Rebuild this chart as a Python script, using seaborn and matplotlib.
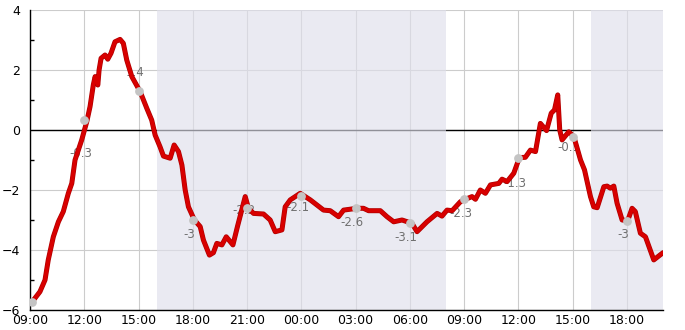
import numpy as np
import pandas as pd
import matplotlib
matplotlib.use("Agg")
import matplotlib.pyplot as plt
import matplotlib.dates as mdates
import matplotlib.patheffects as pe
from matplotlib.ticker import MultipleLocator
import seaborn as sns

start = pd.Timestamp("2024-01-01 09:00")

# line data: hours after 09:00 on day 1, value
hours = [0.13, 0.55, 0.83, 1.01, 1.29, 1.57, 1.84, 2.12, 2.31, 2.49, 2.86, 3.14, 3.32, 3.50,
         3.60, 3.75, 3.82, 3.93, 4.15, 4.30, 4.48, 4.70, 4.98, 5.16, 5.35, 5.63, 6.09, 6.46,
         6.73, 6.92, 7.19, 7.38, 7.75, 7.97, 8.21, 8.40, 8.58, 8.76, 9.09, 9.41, 9.59, 9.92,
         10.14, 10.33, 10.61, 10.85, 11.22, 11.47, 11.90, 12.08, 12.36, 12.91, 13.28, 13.56,
         13.93, 14.11, 14.39, 14.94, 15.50, 16.23, 16.60, 17.06, 17.34, 18.08, 18.44, 18.72,
         19.37, 19.74, 20.11, 20.57, 21.12, 21.40, 21.95, 22.51, 22.78, 23.06, 23.34, 23.80,
         24.07, 24.44, 24.63, 24.90, 25.18, 25.46, 25.92, 26.10, 26.38, 26.75, 27.06, 27.39,
         27.67, 27.95, 28.22, 28.56, 28.82, 29.00, 29.18, 29.29, 29.42, 29.79, 30.07, 30.44,
         30.66, 30.99, 31.17, 31.36, 31.73, 31.91, 32.09, 32.28, 32.46, 32.74, 33.05, 33.29,
         33.47, 33.75, 34.03, 34.49, 35.00]
values = [-5.72, -5.39, -5.00, -4.33, -3.56, -3.06, -2.72, -2.11, -1.78, -1.00, -0.33, 0.28,
          0.78, 1.50, 1.78, 1.50, 2.00, 2.39, 2.50, 2.36, 2.56, 2.94, 3.02, 2.89, 2.33, 1.78,
          1.28, 0.72, 0.33, -0.17, -0.56, -0.87, -0.94, -0.50, -0.72, -1.17, -2.00, -2.56,
          -3.00, -3.22, -3.67, -4.17, -4.09, -3.78, -3.83, -3.56, -3.83, -3.22, -2.22, -2.61,
          -2.78, -2.80, -3.00, -3.39, -3.33, -2.56, -2.33, -2.11, -2.33, -2.67, -2.69, -2.89,
          -2.67, -2.61, -2.61, -2.69, -2.69, -2.89, -3.06, -3.00, -3.11, -3.39, -3.06, -2.78,
          -2.87, -2.67, -2.69, -2.39, -2.31, -2.22, -2.31, -2.00, -2.11, -1.83, -1.78, -1.64,
          -1.72, -1.44, -0.92, -0.91, -0.67, -0.72, 0.22, -0.02, 0.56, 0.67, 1.17, 0.00,
          -0.33, -0.06, -0.22, -1.00, -1.33, -2.22, -2.56, -2.59, -1.89, -1.87, -1.94, -1.87,
          -2.44, -3.00, -3.02, -2.61, -2.72, -3.44, -3.56, -4.33, -4.09]

# marked points every 3 hours
point_hours = [0.1, 3, 6, 9, 12, 15, 18, 21, 24, 27, 30, 33]
point_values = [-5.73, 0.33, 1.3, -3.0, -2.6, -2.2, -2.6, -3.1, -2.3, -0.92, -0.22, -3.03]

# labels next to the points
label_hours = [3, 6, 9, 12, 15, 18, 21, 24, 27, 30, 33]
label_texts = ["-0.3", "1.4", "-3", "-2.2", "-2.1", "-2.6", "-3.1", "-2.3", "-1.3", "-0.1", "-3"]
label_values = [-0.3, 1.4, -3, -2.2, -2.1, -2.6, -3.1, -2.3, -1.3, -0.1, -3]
label_above = [False, True, False, False, False, False, False, False, False, False, False]

# shaded periods (hours after start)
shade_ranges = [(7, 23), (31, 35)]

sns.set_theme(style="white")
plt.rcParams['font.family'] = ['DejaVu Sans']

fig = plt.figure(figsize=(6.85, 3.3), dpi=100)
ax = fig.add_axes([30 / 685, 20 / 330, 633 / 685, 300 / 330])

df = pd.DataFrame({"time": start + pd.to_timedelta(hours, unit="h"), "value": values})
sns.lineplot(data=df, x="time", y="value", ax=ax, color="#d80000", lw=2.6, zorder=3)
for ln in ax.get_lines():
    ln.set_path_effects([pe.Stroke(linewidth=3.6, foreground="#b00000"), pe.Normal()])

pts = pd.DataFrame({"time": start + pd.to_timedelta(point_hours, unit="h"), "value": point_values})
ax.scatter(pts["time"], pts["value"], s=40, color="#c4c4c4", zorder=4, linewidths=0)

for h, txt, lv, up in zip(label_hours, label_texts, label_values, label_above):
    t = start + pd.Timedelta(hours=h)
    ax.annotate(txt, (t, lv), xytext=(-2.5, 11.5 if up else -10.8), textcoords="offset points",
                ha="center", va="center", color="#707070", fontsize=8.5, zorder=2)

ax.axhline(0, color="black", lw=1.0, zorder=0.6)
for a, b in shade_ranges:
    ax.axvspan(start + pd.Timedelta(hours=a), start + pd.Timedelta(hours=b),
               color="#dfdfeb", alpha=0.65, lw=0, zorder=0.7)

ax.set_xlim(start, start + pd.Timedelta(hours=35))
ax.set_ylim(-6, 4)
ax.yaxis.set_major_locator(MultipleLocator(2))
ax.yaxis.set_minor_locator(MultipleLocator(1))
ax.xaxis.set_major_locator(mdates.HourLocator(byhour=range(0, 24, 3)))
ax.xaxis.set_major_formatter(mdates.DateFormatter("%H:%M"))

ax.set_axisbelow(True)
ax.grid(True, which="major", color="#cccccc", lw=0.8)
ax.set_xlabel("")
ax.set_ylabel("")
for s in ["top", "right"]:
    ax.spines[s].set_visible(False)
for s in ["left", "bottom"]:
    ax.spines[s].set_color("black")
    ax.spines[s].set_linewidth(1.0)
ax.tick_params(axis="both", which="major", direction="in", length=4, width=1,
               color="black", labelsize=9, labelcolor="black", pad=2)
ax.tick_params(axis="y", which="minor", direction="in", length=3, width=1, color="black", left=True)
ax.tick_params(axis="x", which="major", pad=3)
ax.tick_params(axis="y", which="major", pad=7)

fig.savefig("out.png", dpi=100)
